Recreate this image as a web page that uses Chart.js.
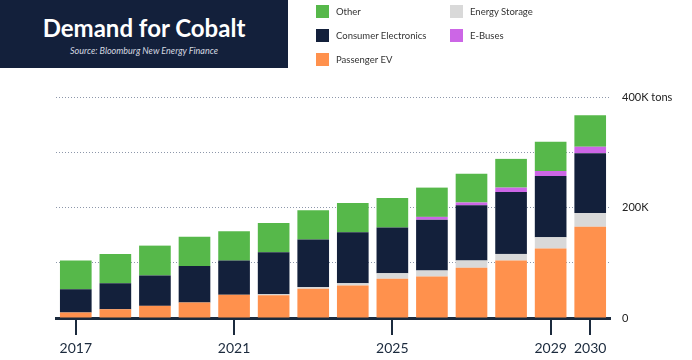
<!DOCTYPE html>
<html>
<head>
<meta charset="utf-8">
<script src="https://cdn.jsdelivr.net/npm/chart.js@4"></script>
<style>
  html, body { margin: 0; padding: 0; background: #ffffff; }
  #wrap { position: relative; width: 692px; height: 360px; overflow: hidden; font-family: "Lato", sans-serif; }
  #titlebox { position: absolute; left: 0; top: 0; width: 288px; height: 68px; background: #13203b; text-align: center; }
  #title { position: absolute; left: 0; right: 0; top: 13px; color: #ffffff; font-weight: 700; font-size: 24px; line-height: 30px; }
  #subtitle { position: absolute; left: 0; right: 0; top: 45px; color: #d5d9e0; font-style: italic; font-size: 9px; line-height: 12px; }
  #legend { position: absolute; left: 316px; top: 4px; display: grid; grid-template-columns: 134px 134px; grid-auto-rows: 24px; }
  .item { display: flex; align-items: center; height: 14px; font-size: 9.5px; color: #333333; }
  .sw { width: 13px; height: 13px; margin-right: 7px; flex: none; }
  canvas { position: absolute; left: 0; top: 0; }
</style>
</head>
<body>
<div id="wrap">
  <canvas id="c" width="692" height="360"></canvas>
  <div id="titlebox">
    <div id="title">Demand for Cobalt</div>
    <div id="subtitle">Source: Bloomburg New Energy Finance</div>
  </div>
  <div id="legend"></div>
</div>
<script>
// ---- data (thousand tons) ----
const years = ['2017','2018','2019','2020','2021','2022','2023','2024','2025','2026','2027','2028','2029','2030'];
const passengerEV         = [10, 16, 22, 28, 42, 41, 53, 59, 71, 75, 91, 104, 126, 165];
const energyStorage       = [0, 0, 0, 0, 0, 2, 3, 4, 10, 11, 13, 12, 20, 25];
const consumerElectronics = [42, 47, 55, 66, 62, 76, 86, 92, 83, 92, 100, 112, 111, 108];
const eBuses              = [0, 0, 0, 0, 0, 0, 0, 0, 0, 5, 5, 8, 9, 12];
const other               = [52, 53, 54, 53, 53, 53, 53, 53, 53, 53, 52, 52, 53, 57];
const shownYears = ['2017','2021','2025','2029','2030'];
const yTickValues = [0, 200, 400];
const yTickLabels = ['0', '200K', '400K tons'];

const colors = {
  'Passenger EV': '#ff914d',
  'Energy Storage': '#d9d9d9',
  'Consumer Electronics': '#13203b',
  'E-Buses': '#cc66e6',
  'Other': '#56b84a'
};

const datasets = [
  { label: 'Passenger EV', data: passengerEV },
  { label: 'Energy Storage', data: energyStorage },
  { label: 'Consumer Electronics', data: consumerElectronics },
  { label: 'E-Buses', data: eBuses },
  { label: 'Other', data: other }
].map(d => Object.assign(d, {
  backgroundColor: colors[d.label],
  borderWidth: 0,
  barPercentage: 0.8,
  categoryPercentage: 1.0
}));

// legend (two columns, row-wise)
const legendOrder = ['Other', 'Energy Storage', 'Consumer Electronics', 'E-Buses', 'Passenger EV'];
const lg = document.getElementById('legend');
legendOrder.forEach(name => {
  const it = document.createElement('div');
  it.className = 'item';
  const sw = document.createElement('span');
  sw.className = 'sw';
  sw.style.background = colors[name];
  it.appendChild(sw);
  it.appendChild(document.createTextNode(name));
  lg.appendChild(it);
});

const axisColor = '#1b2a3d';

new Chart(document.getElementById('c'), {
  type: 'bar',
  data: { labels: years, datasets: datasets },
  options: {
    responsive: false,
    animation: false,
    devicePixelRatio: 1,
    layout: { padding: { left: 56, top: 97, right: 0, bottom: 0 } },
    plugins: { legend: { display: false }, tooltip: { enabled: false } },
    scales: {
      x: {
        stacked: true,
        offset: true,
        grid: {
          offset: false,
          drawOnChartArea: false,
          drawTicks: true,
          tickLength: 17,
          lineWidth: 2,
          color: ctx => shownYears.includes(years[ctx.index]) ? axisColor : 'rgba(0,0,0,0)'
        },
        border: { display: true, color: axisColor, width: 3 },
        ticks: {
          autoSkip: false,
          maxRotation: 0,
          padding: 5,
          color: axisColor,
          font: { family: 'Lato', size: 14 },
          callback: (v, i) => shownYears.includes(years[i]) ? years[i] : ''
        },
        afterFit: s => { s.height = 42; }
      },
      y: {
        position: 'right',
        stacked: true,
        min: 0,
        max: 400,
        ticks: {
          stepSize: 100,
          padding: 12,
          color: '#222222',
          font: { family: 'Lato', size: 11 },
          callback: v => { const k = yTickValues.indexOf(v); return k >= 0 ? yTickLabels[k] : ''; }
        },
        grid: {
          drawTicks: false,
          lineWidth: 1,
          color: ctx => ctx.tick && ctx.tick.value === 0 ? 'rgba(0,0,0,0)' : '#8d97aa'
        },
        border: { display: false, dash: [1, 2] },
        afterFit: s => { s.width = 82; }
      }
    }
  }
});
</script>
</body>
</html>
